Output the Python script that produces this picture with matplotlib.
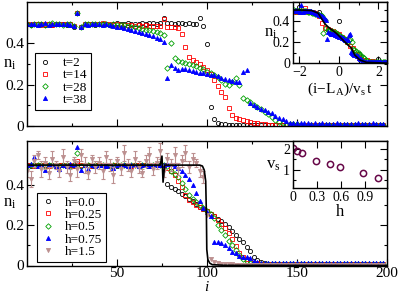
import numpy as np
import matplotlib
matplotlib.use('Agg')
import matplotlib.pyplot as plt

plt.rcParams['font.family'] = 'Liberation Serif'
plt.rcParams['mathtext.fontset'] = 'custom'
plt.rcParams['mathtext.rm'] = 'Liberation Serif'
plt.rcParams['mathtext.it'] = 'Liberation Serif:italic'

# lattice sites (every second site)
site = np.arange(0, 200, 2)

# ---- top panel: density profiles at several times ----
times = [2, 14, 28, 38]
n_t2 = [0.495, 0.490, 0.495, 0.492, 0.496, 0.490, 0.494, 0.491, 0.496, 0.492,
        0.494, 0.490, 0.495, 0.480, 0.545, 0.480, 0.494, 0.492, 0.496, 0.491,
        0.495, 0.492, 0.496, 0.490, 0.494, 0.497, 0.492, 0.495, 0.498, 0.493,
        0.496, 0.494, 0.498, 0.495, 0.497, 0.499, 0.496, 0.500, 0.525, 0.498,
        0.497, 0.496, 0.498, 0.497, 0.496, 0.497, 0.495, 0.496, 0.525, 0.485,
        0.395, 0.090, 0.035, 0.015, 0.010, 0.008, 0.007, 0.006, 0.006, 0.005,
        0.006, 0.005, 0.006, 0.005, 0.005, 0.006, 0.005, 0.005, 0.006, 0.005,
        0.005, 0.006, 0.005, 0.005, 0.006, 0.005, 0.005, 0.006, 0.005, 0.005,
        0.006, 0.005, 0.005, 0.006, 0.005, 0.005, 0.006, 0.005, 0.005, 0.006,
        0.005, 0.005, 0.006, 0.005, 0.005, 0.006, 0.005, 0.005, 0.006, 0.005]
n_t14 = [0.493, 0.496, 0.492, 0.495, 0.490, 0.494, 0.496, 0.491, 0.495, 0.493,
         0.496, 0.492, 0.495, 0.482, 0.545, 0.480, 0.493, 0.496, 0.492, 0.495,
         0.494, 0.497, 0.492, 0.495, 0.490, 0.493, 0.489, 0.491, 0.487, 0.490,
         0.486, 0.488, 0.485, 0.487, 0.484, 0.486, 0.483, 0.485, 0.520, 0.478,
         0.477, 0.479, 0.476, 0.447, 0.382, 0.334, 0.318, 0.310, 0.300, 0.285,
         0.270, 0.250, 0.225, 0.195, 0.165, 0.140, 0.085, 0.052, 0.037, 0.032,
         0.028, 0.024, 0.020, 0.015, 0.012, 0.009, 0.008, 0.007, 0.006, 0.006,
         0.006, 0.005, 0.006, 0.005, 0.006, 0.005, 0.005, 0.006, 0.005, 0.006,
         0.005, 0.006, 0.005, 0.005, 0.006, 0.005, 0.006, 0.005, 0.005, 0.006,
         0.005, 0.006, 0.005, 0.005, 0.006, 0.005, 0.006, 0.005, 0.005, 0.006]
n_t28 = [0.494, 0.491, 0.496, 0.492, 0.495, 0.490, 0.494, 0.497, 0.492, 0.495,
         0.491, 0.495, 0.493, 0.482, 0.545, 0.480, 0.495, 0.492, 0.496, 0.493,
         0.495, 0.492, 0.494, 0.491, 0.493, 0.490, 0.488, 0.487, 0.485, 0.480,
         0.478, 0.475, 0.470, 0.467, 0.463, 0.460, 0.457, 0.450, 0.440, 0.280,
         0.403, 0.330, 0.315, 0.310, 0.305, 0.300, 0.295, 0.290, 0.283, 0.276,
         0.262, 0.255, 0.245, 0.238, 0.225, 0.205, 0.200, 0.215, 0.230, 0.200,
         0.135, 0.125, 0.118, 0.100, 0.093, 0.080, 0.070, 0.060, 0.045, 0.030,
         0.020, 0.012, 0.010, 0.009, 0.008, 0.008, 0.007, 0.007, 0.006, 0.007,
         0.006, 0.007, 0.006, 0.006, 0.007, 0.006, 0.006, 0.007, 0.006, 0.006,
         0.007, 0.006, 0.006, 0.007, 0.006, 0.006, 0.007, 0.006, 0.006, 0.007]
n_t38 = [0.496, 0.492, 0.495, 0.490, 0.494, 0.497, 0.491, 0.495, 0.493, 0.496,
         0.492, 0.495, 0.490, 0.482, 0.545, 0.480, 0.494, 0.491, 0.495, 0.492,
         0.494, 0.490, 0.492, 0.488, 0.485, 0.480, 0.478, 0.475, 0.470, 0.465,
         0.460, 0.455, 0.450, 0.445, 0.440, 0.435, 0.428, 0.420, 0.406, 0.230,
         0.294, 0.280, 0.270, 0.275, 0.278, 0.270, 0.265, 0.262, 0.258, 0.255,
         0.250, 0.248, 0.245, 0.240, 0.232, 0.226, 0.222, 0.220, 0.215, 0.214,
         0.262, 0.270, 0.109, 0.100, 0.090, 0.080, 0.075, 0.070, 0.065, 0.050,
         0.040, 0.035, 0.022, 0.016, 0.014, 0.013, 0.012, 0.013, 0.012, 0.011,
         0.012, 0.011, 0.012, 0.011, 0.010, 0.011, 0.012, 0.010, 0.011, 0.010,
         0.011, 0.010, 0.012, 0.011, 0.010, 0.011, 0.012, 0.010, 0.011, 0.010]

# scaling collapse (inset)
L_A = 100
v_s = 1.0
curve_x = [-2.33, -1.97, -1.38, -1.05, -0.88, -0.71, -0.54, -0.12, 0.30, 0.64,
           0.81, 1.06, 1.40, 2.43]
curve_n = [0.50, 0.50, 0.495, 0.47, 0.42, 0.37, 0.34, 0.28, 0.20, 0.14,
           0.075, 0.03, 0.007, 0.0]

# ---- bottom panel: profiles for several h ----
b_h0 = [0.502, 0.498, 0.503, 0.500, 0.497, 0.501, 0.499, 0.503, 0.498, 0.500,
        0.501, 0.497, 0.502, 0.499, 0.510, 0.498, 0.501, 0.500, 0.497, 0.502,
        0.499, 0.501, 0.498, 0.502, 0.500, 0.497, 0.501, 0.499, 0.502, 0.498,
        0.500, 0.502, 0.499, 0.501, 0.498, 0.500, 0.502, 0.499, 0.500, 0.404,
        0.390, 0.380, 0.370, 0.355, 0.345, 0.333, 0.320, 0.305, 0.292, 0.280,
        0.270, 0.258, 0.245, 0.232, 0.220, 0.205, 0.190, 0.170, 0.150, 0.130,
        0.115, 0.092, 0.072, 0.040, 0.025, 0.015, 0.010, 0.008, 0.007, 0.006,
        0.006, 0.005, 0.006, 0.005, 0.006, 0.005, 0.005, 0.006, 0.005, 0.006,
        0.005, 0.006, 0.005, 0.005, 0.006, 0.005, 0.006, 0.005, 0.005, 0.006,
        0.005, 0.006, 0.005, 0.005, 0.006, 0.005, 0.006, 0.005, 0.005, 0.006]
b_h025 = [0.500, 0.503, 0.498, 0.501, 0.499, 0.502, 0.497, 0.500, 0.503, 0.499,
          0.501, 0.498, 0.502, 0.497, 0.520, 0.499, 0.501, 0.503, 0.498, 0.500,
          0.502, 0.499, 0.500, 0.497, 0.501, 0.503, 0.499, 0.500, 0.502, 0.498,
          0.501, 0.499, 0.503, 0.500, 0.498, 0.501, 0.500, 0.499, 0.502, 0.485,
          0.470, 0.450, 0.420, 0.390, 0.350, 0.328, 0.315, 0.302, 0.290, 0.280,
          0.270, 0.258, 0.245, 0.225, 0.205, 0.185, 0.160, 0.130, 0.095, 0.060,
          0.040, 0.030, 0.020, 0.014, 0.010, 0.009, 0.008, 0.007, 0.007, 0.006,
          0.006, 0.007, 0.006, 0.006, 0.007, 0.006, 0.006, 0.007, 0.006, 0.006,
          0.007, 0.006, 0.006, 0.007, 0.006, 0.006, 0.007, 0.006, 0.006, 0.007,
          0.006, 0.006, 0.007, 0.006, 0.006, 0.007, 0.006, 0.006, 0.007, 0.006]
b_h05 = [0.498, 0.501, 0.499, 0.503, 0.500, 0.497, 0.502, 0.499, 0.501, 0.498,
         0.502, 0.499, 0.497, 0.501, 0.560, 0.495, 0.500, 0.502, 0.499, 0.501,
         0.499, 0.502, 0.500, 0.498, 0.501, 0.499, 0.503, 0.500, 0.498, 0.501,
         0.500, 0.498, 0.501, 0.503, 0.499, 0.500, 0.502, 0.499, 0.500, 0.498,
         0.470, 0.458, 0.440, 0.410, 0.380, 0.350, 0.333, 0.318, 0.300, 0.285,
         0.270, 0.255, 0.235, 0.200, 0.178, 0.152, 0.120, 0.100, 0.078, 0.050,
         0.030, 0.020, 0.014, 0.011, 0.009, 0.008, 0.008, 0.007, 0.007, 0.006,
         0.007, 0.006, 0.007, 0.006, 0.007, 0.006, 0.007, 0.006, 0.007, 0.006,
         0.007, 0.006, 0.007, 0.006, 0.007, 0.006, 0.007, 0.006, 0.007, 0.006,
         0.007, 0.006, 0.007, 0.006, 0.007, 0.006, 0.007, 0.006, 0.007, 0.006]
b_h075 = [0.500, 0.505, 0.540, 0.498, 0.502, 0.475, 0.500, 0.503, 0.497, 0.480,
          0.502, 0.498, 0.505, 0.500, 0.590, 0.475, 0.502, 0.480, 0.500, 0.498,
          0.501, 0.503, 0.497, 0.500, 0.485, 0.502, 0.499, 0.501, 0.498, 0.503,
          0.500, 0.498, 0.502, 0.500, 0.497, 0.501, 0.499, 0.503, 0.500, 0.504,
          0.504, 0.495, 0.484, 0.470, 0.450, 0.430, 0.400, 0.360, 0.320, 0.285,
          0.265, 0.245, 0.118, 0.115, 0.110, 0.100, 0.085, 0.065, 0.060, 0.045,
          0.044, 0.040, 0.036, 0.020, 0.015, 0.014, 0.013, 0.012, 0.013, 0.012,
          0.012, 0.013, 0.012, 0.011, 0.012, 0.013, 0.012, 0.011, 0.012, 0.013,
          0.012, 0.011, 0.012, 0.013, 0.012, 0.011, 0.012, 0.013, 0.012, 0.011,
          0.012, 0.013, 0.012, 0.011, 0.012, 0.013, 0.012, 0.011, 0.012, 0.013]
b_h15 = [0.47, 0.43, 0.52, 0.55, 0.48, 0.51, 0.46, 0.53, 0.50, 0.47,
         0.54, 0.49, 0.45, 0.52, 0.48, 0.55, 0.50, 0.46, 0.53, 0.49,
         0.51, 0.47, 0.54, 0.50, 0.45, 0.52, 0.48, 0.56, 0.50, 0.47,
         0.53, 0.49, 0.46, 0.52, 0.55, 0.48, 0.51, 0.57, 0.47, 0.53,
         0.50, 0.55, 0.48, 0.52, 0.56, 0.49, 0.53, 0.51, 0.47, 0.44,
         0.25, 0.030, 0.015, 0.010, 0.008, 0.006, 0.005, 0.005, 0.004, 0.004,
         0.004, 0.003, 0.004, 0.003, 0.004, 0.003, 0.004, 0.003, 0.004, 0.003,
         0.004, 0.003, 0.004, 0.003, 0.004, 0.003, 0.004, 0.003, 0.004, 0.003,
         0.004, 0.003, 0.004, 0.003, 0.004, 0.003, 0.004, 0.003, 0.004, 0.003,
         0.004, 0.003, 0.004, 0.003, 0.004, 0.003, 0.004, 0.003, 0.004, 0.003]
err_h15 = [0.03, 0.04, 0.03, 0.02, 0.04, 0.03, 0.03, 0.04, 0.02, 0.03,
           0.04, 0.03, 0.03, 0.02, 0.04, 0.03, 0.04, 0.03, 0.02, 0.03,
           0.03, 0.04, 0.03, 0.03, 0.04, 0.02, 0.03, 0.04, 0.03, 0.03,
           0.04, 0.03, 0.02, 0.03, 0.04, 0.03, 0.03, 0.04, 0.03, 0.03,
           0.03, 0.04, 0.03, 0.03, 0.04, 0.03, 0.03, 0.02, 0.03, 0.03]
# black solid line in bottom panel
line_i = [0, 74, 75, 75.6, 76.5, 96, 97.5, 98.5, 99.3, 99.7, 99.9, 100.5,
          101.5, 103, 110, 200]
line_n = [0.50, 0.50, 0.545, 0.415, 0.50, 0.50, 0.495, 0.475, 0.42, 0.25, 0.08,
          0.03, 0.012, 0.004, 0.001, 0.0]

# front velocity vs h (bottom inset)
h_vals = [0, 0.05, 0.11, 0.29, 0.47, 0.59, 0.88, 1.06]
vs_vals = [2.03, 1.90, 1.78, 1.43, 1.29, 1.13, 0.83, 0.59]

green = '#00a000'
brown = '#bc8f8f'
top_styles = [dict(marker='o', mfc='none', mec='k'),
              dict(marker='s', mfc='none', mec='r'),
              dict(marker='D', mfc='none', mec=green, ms=2.8),
              dict(marker='^', mfc='b', mec='b')]


def style_ax(ax, fs=11):
    ax.tick_params(which='both', direction='in', top=True, right=True,
                   labelsize=fs, width=0.8, pad=2)
    ax.tick_params(which='major', length=5)
    ax.tick_params(which='minor', length=2.5)
    for s in ax.spines.values():
        s.set_linewidth(1.0)


fig = plt.figure(figsize=(3.99, 2.95), dpi=100)

# top panel
ax1 = fig.add_axes([0.0677, 0.573, 0.902, 0.42])
for t, n, st in zip(times, [n_t2, n_t14, n_t28, n_t38], top_styles):
    kw = dict(ms=3, mew=0.6, ls='none')
    kw.update(st)
    ax1.plot(site, n, label='t=%d' % t, **kw)
ax1.set_xlim(0, 200)
ax1.set_ylim(0, 0.6)
ax1.set_xticks([50, 100, 150])
ax1.set_xticks([25, 75, 125, 175], minor=True)
ax1.set_yticks([0, 0.2, 0.4])
ax1.set_yticklabels(['0', '0.2', '0.4'])
ax1.set_yticks([0.1, 0.3, 0.5], minor=True)
style_ax(ax1)
ax1.tick_params(labelbottom=False)
ax1.set_ylabel(r'$\mathrm{n_i}$', fontsize=12, rotation=0, ha='center', va='center')
ax1.yaxis.set_label_coords(-0.047, 0.5)
leg = ax1.legend(loc='lower left', bbox_to_anchor=(0.022, 0.13), fontsize=9.5,
                 frameon=True, fancybox=False, edgecolor='k', framealpha=1,
                 handlelength=1.0, handletextpad=0.8, borderpad=0.3,
                 labelspacing=0.0, borderaxespad=0)
leg.get_frame().set_linewidth(0.8)

# top inset: scaling collapse
ax3 = fig.add_axes([0.734, 0.786, 0.2356, 0.207])
for t, n, st in zip(times, [n_t2, n_t14, n_t28, n_t38], top_styles):
    kw = dict(ms=3, mew=0.6, ls='none')
    kw.update(st)
    ax3.plot((site - L_A) / (v_s * t), n, **kw)
ax3.plot(curve_x, curve_n, color='k', lw=1.2)
ax3.set_xlim(-2.33, 2.43)
ax3.set_ylim(0, 0.575)
ax3.set_xticks([-2, 0, 2])
ax3.set_xticks([-1, 1], minor=True)
ax3.set_yticks([0, 0.2, 0.4])
ax3.set_yticklabels(['0', '0.2', '0.4'])
ax3.set_yticks([0.1, 0.3, 0.5], minor=True)
style_ax(ax3, 10)
ax3.set_ylabel(r'$\mathrm{n_i}$', fontsize=12, rotation=0, ha='center', va='center')
ax3.yaxis.set_label_coords(-0.234, 0.5)
ax3.set_xlabel(r'$\mathrm{(i\!-\!L_A)/v_s\,t}$', fontsize=11, va='center')
ax3.xaxis.set_label_coords(0.5, -0.43)

# bottom panel
ax2 = fig.add_axes([0.0677, 0.1, 0.902, 0.422])
bottom = [('h=0.0', b_h0, top_styles[0]), ('h=0.25', b_h025, top_styles[1]),
          ('h=0.5', b_h05, top_styles[2]), ('h=0.75', b_h075, top_styles[3])]
for lab, n, st in bottom:
    kw = dict(ms=3, mew=0.6, ls='none')
    kw.update(st)
    ax2.plot(site, n, label=lab, **kw)
ax2.errorbar(site[:50], b_h15[:50], yerr=err_h15, fmt='none', ecolor=brown,
             elinewidth=0.8, capsize=1.2, capthick=0.8)
ax2.plot(site, b_h15, ls='none', marker='v', ms=3, mfc=brown, mec=brown,
         mew=0.6, label='h=1.5')
ax2.plot(line_i, line_n, color='k', lw=1.2)
ax2.set_xlim(0, 200)
ax2.set_ylim(0, 0.62)
ax2.set_xticks([50, 100, 150, 200])
ax2.set_xticks([25, 75, 125, 175], minor=True)
ax2.set_yticks([0, 0.2, 0.4])
ax2.set_yticklabels(['0', '0.2', '0.4'])
ax2.set_yticks([0.1, 0.3, 0.5], minor=True)
style_ax(ax2)
ax2.tick_params(axis='x', pad=1)
ax2.set_ylabel(r'$\mathrm{n_i}$', fontsize=12, rotation=0, ha='center', va='center')
ax2.yaxis.set_label_coords(-0.047, 0.5)
ax2.set_xlabel(r'$i$', fontsize=11, va='center')
ax2.xaxis.set_label_coords(0.5, -0.175)
leg2 = ax2.legend(loc='lower left', bbox_to_anchor=(0.028, 0.03), fontsize=9.5,
                  frameon=True, fancybox=False, edgecolor='k', framealpha=1,
                  handlelength=1.0, handletextpad=0.8, borderpad=0.3,
                  labelspacing=0.0, borderaxespad=0)
leg2.get_frame().set_linewidth(0.8)

# bottom inset: v_s vs h
ax4 = fig.add_axes([0.7336, 0.3627, 0.2363, 0.159])
ax4.plot(h_vals, vs_vals, ls='none', marker='o', ms=4.5, mfc='none',
         mec='#670748', mew=1.1)
ax4.set_xlim(0, 1.175)
ax4.set_ylim(0.13, 2.37)
ax4.set_xticks([0, 0.3, 0.6, 0.9])
ax4.set_xticklabels(['0', '0.3', '0.6', '0.9'])
ax4.set_yticks([1, 2])
ax4.set_yticks([0.5, 1.5], minor=True)
style_ax(ax4, 10)
ax4.set_ylabel(r'$\mathrm{v_s}$', fontsize=12, rotation=0, ha='center', va='center')
ax4.yaxis.set_label_coords(-0.21, 0.5)
ax4.set_xlabel('h', fontsize=12, va='center')
ax4.xaxis.set_label_coords(0.5, -0.52)

fig.savefig('out.png', dpi=100)
